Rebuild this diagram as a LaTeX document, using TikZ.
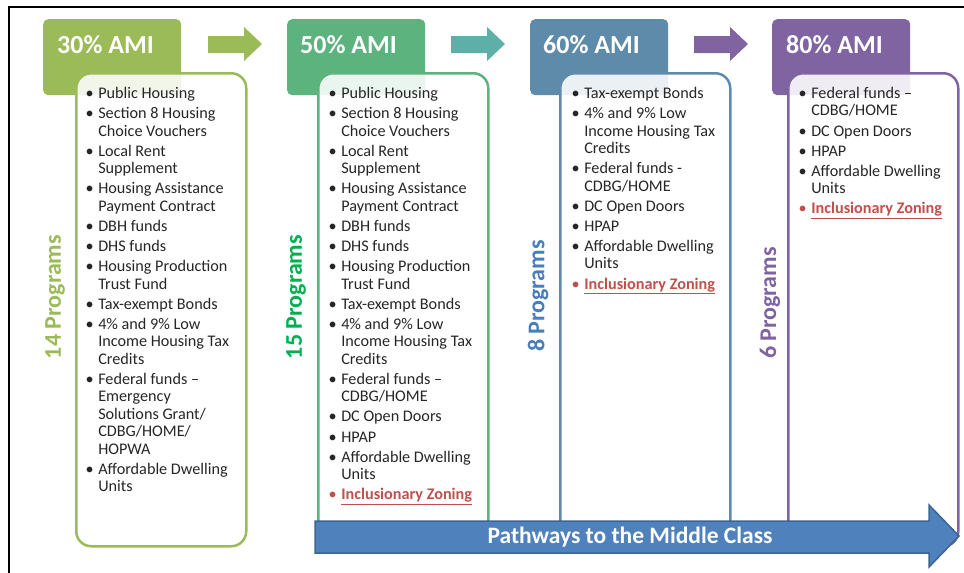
\documentclass[tikz,border=0pt]{standalone}
\usepackage{fontspec}
\setmainfont{Carlito}
\definecolor{cA}{HTML}{9BBB59}
\definecolor{cB}{HTML}{5DB37E}
\definecolor{cBarrow}{HTML}{5DAFA7}
\definecolor{cC}{HTML}{5F8BAB}
\definecolor{cD}{HTML}{8064A2}
\definecolor{cBtext}{HTML}{00B050}
\definecolor{cCtext}{HTML}{4A7EBB}
\definecolor{izred}{HTML}{C0504D}
\definecolor{pathfill}{HTML}{4F81BD}
\definecolor{pathline}{HTML}{3A6595}
\definecolor{itemtext}{HTML}{262626}
\newcommand{\bl}{\textbullet}
\newcommand{\izrow}{\textcolor{izred}{\bl} & \textcolor{izred}{\bfseries\underline{Inclusionary Zoning}}\\}
\begin{document}
\begin{tikzpicture}[x=1pt,y=-1pt,
  tab/.style={rounded corners=5pt, inner sep=0, minimum width=138pt, minimum height=76pt, anchor=north west},
  tabtext/.style={text=white, font=\fontsize{26}{30}\selectfont\bfseries, anchor=west, inner sep=0},
  listbox/.style={rounded corners=15pt, line width=2.5pt, fill=white, fill opacity=0.88, inner sep=0,
    minimum width=170pt, minimum height=473pt, anchor=north west},
  listtext/.style={anchor=north west, inner sep=0, text=itemtext,
    font=\fontsize{16.2}{17.5}\selectfont},
  count/.style={rotate=90, font=\fontsize{24}{28}\selectfont\bfseries, inner sep=0}
]
\useasboundingbox (0,0) rectangle (964,573);

% outer frame
\draw[line width=2pt] (966,7) -- (9,7) -- (9,575);

% header tabs
\node[tab, fill=cA] (tA) at (43,19) {};
\node[tab, fill=cB] (tB) at (287,19) {};
\node[tab, fill=cC] (tC) at (530,19) {};
\node[tab, fill=cD] (tD) at (772,19) {};
\node[tabtext] (hA) at (57,45) {30\% AMI};
\node[tabtext] (hB) at (300,45) {50\% AMI};
\node[tabtext] (hC) at (543,45) {60\% AMI};
\node[tabtext] (hD) at (786,45) {80\% AMI};

% block arrows between the tabs
\fill[cA] (208,36) -- (244,36) -- (244,27) -- (262,44) -- (244,61) -- (244,53) -- (208,53) -- cycle;
\fill[cBarrow] (451,36) -- (487,36) -- (487,27) -- (505,44) -- (487,61) -- (487,53) -- (451,53) -- cycle;
\fill[cD] (694,36) -- (730,36) -- (730,27) -- (748,44) -- (730,61) -- (730,53) -- (694,53) -- cycle;

% program list boxes
\node[listbox, draw=cA] (bA) at (75,72) {};
\node[listbox, draw=cB] (bB) at (317,72) {};
\node[listbox, draw=cC] (bC) at (559,72) {};
\node[listbox, draw=cD] (bD) at (787,72) {};

% program counts
\node[count, text=cA] (nA) at (55,297) {14 Programs};
\node[count, text=cBtext] (nB) at (296,297) {15 Programs};
\node[count, text=cCtext] (nC) at (538,296) {8 Programs};
\node[count, text=cD] (nD) at (770,303) {6 Programs};

% program lists
\node[listtext] (lA) at (85.5,86) {%
\begin{tabular}{@{}l@{\hspace{4.5pt}}l@{}}
\bl & Public Housing\\[2.6pt]
\bl & Section 8 Housing\\
    & Choice Vouchers\\[2.6pt]
\bl & Local Rent\\
    & Supplement\\[2.6pt]
\bl & Housing Assistance\\
    & Payment Contract\\[2.6pt]
\bl & DBH funds\\[2.6pt]
\bl & DHS funds\\[2.6pt]
\bl & Housing Production\\
    & Trust Fund\\[2.6pt]
\bl & Tax-exempt Bonds\\[2.6pt]
\bl & 4\% and 9\% Low\\
    & Income Housing Tax\\
    & Credits\\[2.6pt]
\bl & Federal funds –\\
    & Emergency\\
    & Solutions Grant/\\
    & CDBG/HOME/\\
    & HOPWA\\[2.6pt]
\bl & Affordable Dwelling\\
    & Units\\
\end{tabular}};

\node[listtext] (lB) at (328.5,86) {%
\begin{tabular}{@{}l@{\hspace{4.5pt}}l@{}}
\bl & Public Housing\\[2.6pt]
\bl & Section 8 Housing\\
    & Choice Vouchers\\[2.6pt]
\bl & Local Rent\\
    & Supplement\\[2.6pt]
\bl & Housing Assistance\\
    & Payment Contract\\[2.6pt]
\bl & DBH funds\\[2.6pt]
\bl & DHS funds\\[2.6pt]
\bl & Housing Production\\
    & Trust Fund\\[2.6pt]
\bl & Tax-exempt Bonds\\[2.6pt]
\bl & 4\% and 9\% Low\\
    & Income Housing Tax\\
    & Credits\\[2.6pt]
\bl & Federal funds –\\
    & CDBG/HOME\\[2.6pt]
\bl & DC Open Doors\\[2.6pt]
\bl & HPAP\\[2.6pt]
\bl & Affordable Dwelling\\
    & Units\\[2.6pt]
\izrow
\end{tabular}};

\node[listtext] (lC) at (571.5,86) {%
\begin{tabular}{@{}l@{\hspace{4.5pt}}l@{}}
\bl & Tax-exempt Bonds\\[2.6pt]
\bl & 4\% and 9\% Low\\
    & Income Housing Tax\\
    & Credits\\[2.6pt]
\bl & Federal funds -\\
    & CDBG/HOME\\[2.6pt]
\bl & DC Open Doors\\[2.6pt]
\bl & HPAP\\[2.6pt]
\bl & Affordable Dwelling\\
    & Units\\[2.6pt]
\izrow
\end{tabular}};

\node[listtext] (lD) at (798.5,86) {%
\begin{tabular}{@{}l@{\hspace{4.5pt}}l@{}}
\bl & Federal funds –\\
    & CDBG/HOME\\[2.6pt]
\bl & DC Open Doors\\[2.6pt]
\bl & HPAP\\[2.6pt]
\bl & Affordable Dwelling\\
    & Units\\[2.6pt]
\izrow
\end{tabular}};

% pathway arrow along the bottom
\draw[fill=pathfill, draw=pathline, line width=1.5pt, line join=miter]
  (315,521) -- (929,521) -- (929,505) -- (959,536) -- (929,567) -- (929,553) -- (315,553) -- cycle;
\node[text=white, font=\fontsize{23.5}{26}\selectfont\bfseries, inner sep=0] (path) at (630,537) {Pathways to the Middle Class};
\end{tikzpicture}
\end{document}
